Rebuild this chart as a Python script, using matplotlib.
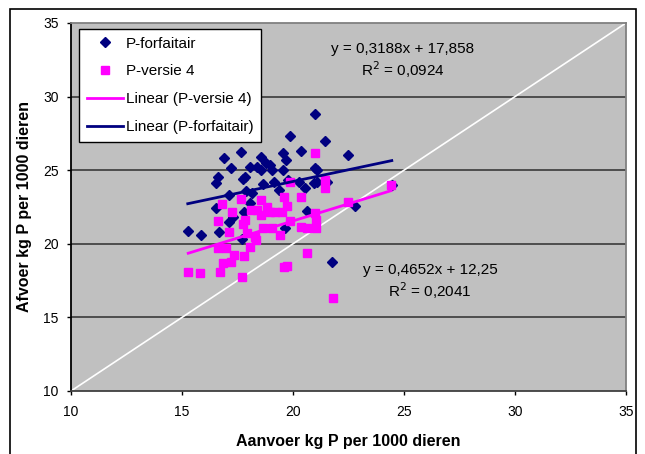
import matplotlib
matplotlib.use("Agg")
import matplotlib.pyplot as plt
from matplotlib.lines import Line2D
from matplotlib.patches import Rectangle
import numpy as np

plt.rcParams['font.family'] = ['Liberation Sans', 'DejaVu Sans']
plt.rcParams['font.size'] = 10

# -----------------------------
# Data
# -----------------------------
forf_x = [15.26, 15.84, 16.54, 16.63, 16.52, 16.65, 16.88, 17.19, 17.13, 17.10,
          17.28, 17.65, 17.75, 17.86, 17.90, 17.78, 17.71, 18.06, 18.15, 18.08,
          18.40, 18.54, 18.58, 18.67, 18.77, 18.95, 19.04, 19.14, 19.38, 19.56,
          19.56, 19.69, 19.88, 19.79, 19.64, 20.34, 20.29, 20.56, 20.64, 20.99,
          20.99, 21.08, 20.93, 21.08, 21.42, 21.55, 22.47, 22.79, 21.77, 24.45]
forf_y = [20.89, 20.57, 24.16, 24.56, 22.41, 20.78, 25.86, 25.13, 23.32, 21.50,
          21.84, 26.22, 24.41, 24.56, 23.61, 22.18, 20.30, 25.25, 23.43, 22.75,
          25.25, 25.02, 25.93, 24.04, 25.47, 25.36, 25.02, 24.23, 23.66, 26.15,
          25.02, 25.70, 27.29, 24.34, 21.05, 26.33, 24.23, 23.77, 22.23, 28.83,
          25.13, 25.02, 24.11, 24.23, 26.99, 24.23, 26.04, 22.59, 18.73, 24.00]

versie_x = [15.28, 15.80, 16.63, 16.60, 16.82, 16.73, 16.86, 16.97, 17.10, 17.19,
            17.23, 17.34, 17.67, 17.71, 17.78, 17.75, 17.86, 17.93, 18.08, 18.12,
            18.27, 18.34, 18.40, 18.54, 18.58, 18.67, 18.82, 18.95, 19.04, 19.19,
            19.41, 19.51, 19.60, 19.73, 19.60, 19.73, 19.88, 19.88, 20.34, 20.34,
            20.62, 20.62, 20.99, 20.99, 21.05, 21.05, 21.42, 21.45, 21.79, 22.47,
            24.42]
versie_y = [18.10, 18.03, 19.69, 21.57, 22.70, 18.10, 18.67, 19.69, 20.78, 18.78,
            22.18, 19.23, 23.02, 17.76, 19.19, 21.34, 21.62, 20.71, 19.80, 22.30,
            20.48, 20.25, 22.30, 22.98, 21.96, 21.05, 22.52, 22.18, 21.09, 22.18,
            20.59, 22.18, 23.20, 22.59, 18.44, 18.51, 21.55, 24.23, 23.16, 21.16,
            21.05, 19.35, 26.20, 22.07, 21.62, 21.05, 23.77, 24.34, 16.35, 22.82,
            24.00]

# trendline coefficients as printed on the chart
forf_slope, forf_icpt = 0.3188, 17.858
versie_slope, versie_icpt = 0.4652, 12.25

navy = '#000080'
pink = '#FF00FF'

fig = plt.figure(figsize=(6.45, 4.54), dpi=100)
ax = fig.add_axes([71 / 645, 1 - 391 / 454, 555 / 645, 368 / 454])
ax.set_facecolor('#C0C0C0')

ax.set_xlim(10, 35)
ax.set_ylim(10, 35)
ax.set_xticks([10, 15, 20, 25, 30, 35])
ax.set_yticks([10, 15, 20, 25, 30, 35])

for gy in [15, 20, 25, 30]:
    ax.axhline(gy, color='#3a3a3a', lw=1.2, zorder=1)

# y = x reference line
ax.plot([10, 35], [10, 35], color='white', lw=1.2, zorder=2)

ax.plot(forf_x, forf_y, linestyle='none', marker='D', ms=5.6,
        color=navy, zorder=3)
ax.plot(versie_x, versie_y, linestyle='none', marker='s', ms=5.8,
        color=pink, zorder=4)

fx = np.array([min(forf_x), max(forf_x)])
vx = np.array([min(versie_x), max(versie_x)])
ax.plot(vx, versie_slope * vx + versie_icpt, color=pink, lw=2, zorder=5)
ax.plot(fx, forf_slope * fx + forf_icpt, color=navy, lw=2, zorder=5)

ax.text(24.95, 33.23, 'y = 0,3188x + 17,858', ha='center', va='center', fontsize=11)
ax.text(24.95, 31.80, 'R$^2$ = 0,0924', ha='center', va='center', fontsize=11)
ax.text(26.17, 18.22, 'y = 0,4652x + 12,25', ha='center', va='center', fontsize=11)
ax.text(26.17, 16.79, 'R$^2$ = 0,2041', ha='center', va='center', fontsize=11)

ax.spines['left'].set_color('black')
ax.spines['bottom'].set_color('#404040')
ax.spines['top'].set_color('#808080')
ax.spines['right'].set_color('#808080')
for s in ax.spines.values():
    s.set_linewidth(1.3)

ax.tick_params(direction='out', length=3, width=1, labelsize=10, color='black')
ax.tick_params(axis='x', pad=7)
ax.tick_params(axis='y', pad=6)

ax.set_xlabel('Aanvoer kg P per 1000 dieren', fontweight='bold', fontsize=11.5, labelpad=11)
ax.set_ylabel('Afvoer kg P per 1000 dieren', fontweight='bold', fontsize=11.5, labelpad=8)

handles = [
    Line2D([], [], linestyle='none', marker='D', ms=5.6, color=navy),
    Line2D([], [], linestyle='none', marker='s', ms=5.8, color=pink),
    Line2D([], [], color=pink, lw=2),
    Line2D([], [], color=navy, lw=2),
]
labels = ['P-forfaitair', 'P-versie 4', 'Linear (P-versie 4)', 'Linear (P-forfaitair)']
leg = ax.legend(handles, labels, loc='upper left',
                bbox_to_anchor=(79 / 645, 1 - 29 / 454), bbox_transform=fig.transFigure,
                borderaxespad=0, fancybox=False, framealpha=1, edgecolor='black',
                fontsize=11, labelspacing=0.9, handlelength=2.35, handletextpad=0.2,
                borderpad=0.5)
leg.get_frame().set_linewidth(1)
leg.set_zorder(10)

# outer chart border
fig.patches.append(Rectangle((10 / 645, -0.02), 626 / 645, 1 - 9 / 454 + 0.02,
                             transform=fig.transFigure, fill=False,
                             edgecolor='black', lw=1.2))

fig.savefig('out.png', dpi=100)
